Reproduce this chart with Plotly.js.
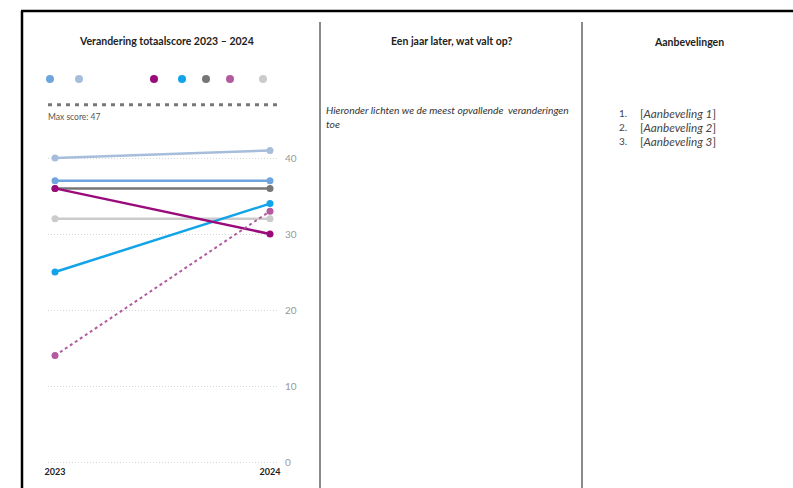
<!DOCTYPE html>
<html>
<head>
<meta charset="utf-8">
<script src="https://cdn.plot.ly/plotly-3.0.1.min.js"></script>
<style>
  html, body { margin: 0; padding: 0; background: #fff; }
  #chart { width: 793px; height: 488px; }
</style>
</head>
<body>
<div id="chart"></div>
<script>
// Total score per group, 2023 and 2024
const years = ['2023', '2024'];
const score2023 = [37, 40, 36, 25, 36, 14, 32];
const score2024 = [37, 41, 30, 34, 36, 33, 32];
const seriesColors = ['#6fa5de', '#a6bddb', '#9a0a7b', '#12a3e8', '#767676', '#b25a9e', '#cbcbcb'];
const seriesDash = ['solid', 'solid', 'solid', 'solid', 'solid', 'dot', 'solid'];
const maxScore = 47;
const yTicks = [0, 10, 20, 30, 40];

const chartTitle = 'Verandering totaalscore 2023 \u2013 2024';
const middleTitle = 'Een jaar later, wat valt op?';
const middleLines = ['Hieronder lichten we de meest opvallende  veranderingen', 'toe'];
const rightTitle = 'Aanbevelingen';
const recommendations = ['Aanbeveling 1', 'Aanbeveling 2', 'Aanbeveling 3'];

// page geometry (pixels)
const W = 793, H = 488;
const px = v => v / W;
const py = v => 1 - v / H;
const legendSlotX = [50, 79, 154, 182, 206, 230, 263];
const FONT = 'Lato, "Open Sans", sans-serif';

const traces = score2023.map((v, i) => ({
  type: 'scatter',
  mode: 'lines+markers',
  x: [Number(years[0]), Number(years[1])],
  y: [v, score2024[i]],
  line: { color: seriesColors[i], width: i === 5 ? 2 : 2.5, dash: seriesDash[i] },
  marker: { color: seriesColors[i], size: 7 },
  showlegend: false,
  hoverinfo: 'skip'
}));

// draw order: pale lines first, strong ones on top
const order = [6, 1, 0, 4, 3, 2, 5];
const data = order.map(i => traces[i]);

const shapes = [
  // outer frame
  { type: 'line', xref: 'paper', yref: 'paper', x0: px(21), x1: 1, y0: py(11), y1: py(11), line: { color: '#000', width: 2.5 } },
  { type: 'line', xref: 'paper', yref: 'paper', x0: px(22), x1: px(22), y0: py(11), y1: 0, line: { color: '#000', width: 2.5 } },
  // column dividers
  { type: 'line', xref: 'paper', yref: 'paper', x0: px(320), x1: px(320), y0: py(22), y1: 0, line: { color: '#8a8a8a', width: 2 } },
  { type: 'line', xref: 'paper', yref: 'paper', x0: px(582), x1: px(582), y0: py(22), y1: 0, line: { color: '#8a8a8a', width: 2 } },
  // max score reference
  { type: 'line', xref: 'paper', yref: 'y', x0: px(48), x1: px(278), y0: maxScore, y1: maxScore, line: { color: '#777', width: 3, dash: '4px,5px' } }
];

// colour key dots
seriesColors.forEach((c, i) => {
  shapes.push({
    type: 'circle', xref: 'paper', yref: 'paper',
    xsizemode: 'pixel', ysizemode: 'pixel',
    xanchor: px(legendSlotX[i]), yanchor: py(79),
    x0: -4, x1: 4, y0: -4, y1: 4,
    fillcolor: c, line: { width: 0 }
  });
});

function note(text, x, y, anchor, font) {
  return {
    text: text, x: px(x), y: py(y), xref: 'paper', yref: 'paper',
    xanchor: anchor, yanchor: 'middle', showarrow: false, borderpad: 0, font: font
  };
}
const titleFont = { size: 10.5, color: '#222', family: FONT, weight: 'bold' };

const annotations = [
  note(chartTitle, 166, 41, 'center', titleFont),
  note(middleTitle, 451, 41, 'center', titleFont),
  note(rightTitle, 689, 42, 'center', titleFont),
  note('Max score: ' + maxScore, 47, 117, 'left', { size: 8.5, color: '#555', family: FONT })
];
middleLines.forEach((t, i) => annotations.push(
  note('<i>' + t + '</i>', 325, 110 + i * 14, 'left', { size: 10.3, color: '#333', family: FONT })
));
recommendations.forEach((t, i) => {
  annotations.push(note((i + 1) + '.', 618, 113 + i * 14, 'left', { size: 10, color: '#444', family: FONT }));
  annotations.push(note('[<i>' + t + '</i>]', 639, 113 + i * 14, 'left', { size: 11.7, color: '#444', family: FONT }));
});

// x: 2023 at 55px, 2024 at 270px; grid spans 48..278px
const xPer = 215;
const xr = [2023 - 7 / xPer, 2024 + 8 / xPer];
// y: 0 at 462px, 7.6px per point
const yLo = -0.4, yHi = 47.6;
const yTopPx = 462 - yHi * 7.6, yBotPx = 462 - yLo * 7.6;

const layout = {
  width: W, height: H,
  margin: { l: 0, r: 0, t: 0, b: 0 },
  paper_bgcolor: '#fff', plot_bgcolor: '#fff',
  font: { family: FONT },
  showlegend: false,
  xaxis: {
    domain: [px(48), px(278)], range: xr,
    tickvals: years.map(Number), ticktext: years,
    showgrid: false, zeroline: false, showline: false, ticks: '',
    tickfont: { size: 9, color: '#222', family: FONT, weight: 'bold' },
    fixedrange: true
  },
  yaxis: {
    domain: [py(yBotPx), py(yTopPx)], range: [yLo, yHi],
    side: 'right', tickvals: yTicks,
    showgrid: true, gridcolor: '#d4d4d4', griddash: '1px,2px', gridwidth: 1,
    zeroline: false, showline: false, ticks: '',
    ticklabelstandoff: 6,
    tickfont: { size: 10, color: '#999', family: FONT },
    fixedrange: true
  },
  shapes: shapes,
  annotations: annotations
};

Plotly.newPlot('chart', data, layout, { displayModeBar: false, staticPlot: true });
</script>
</body>
</html>
